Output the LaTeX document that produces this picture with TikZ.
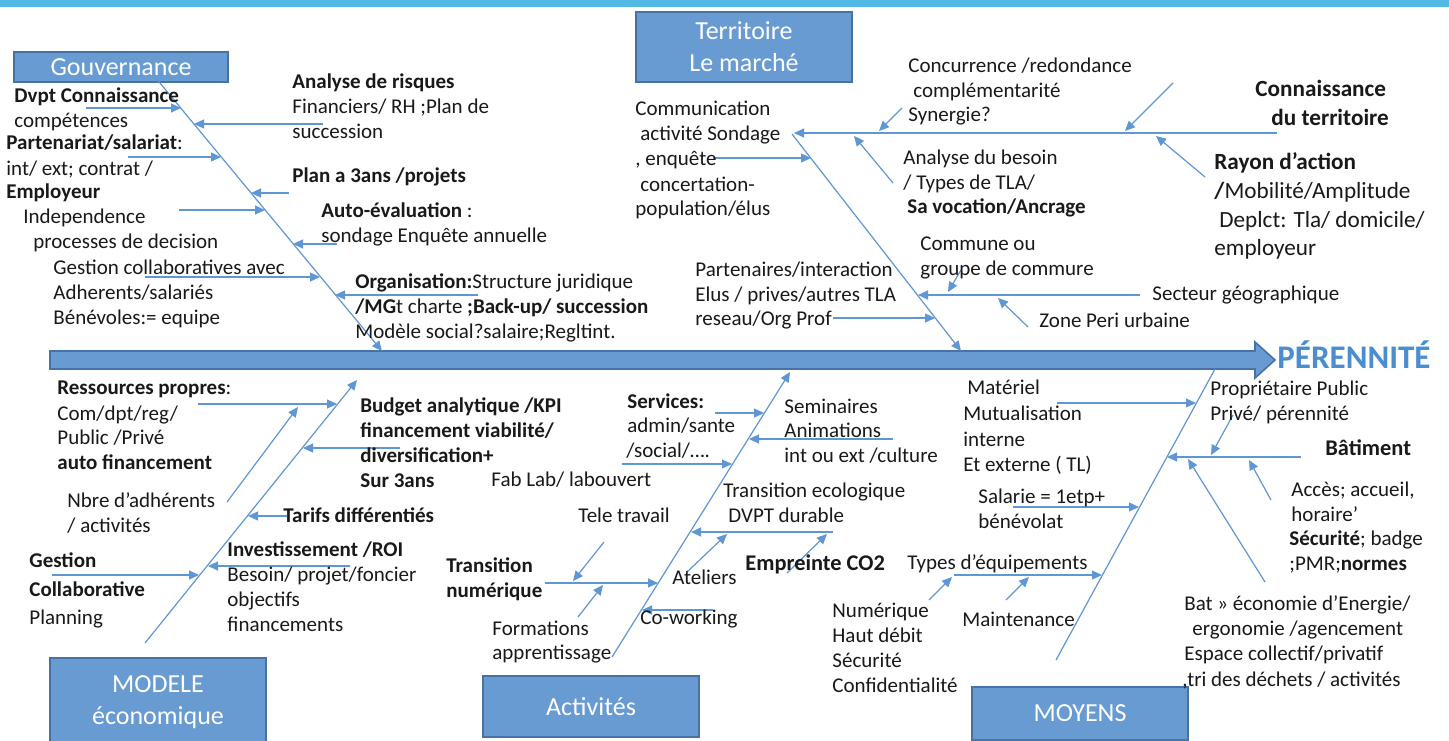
\documentclass[tikz,border=0pt]{standalone}
\usepackage{fontspec}
\setmainfont{Carlito}
\usetikzlibrary{arrows.meta}
\definecolor{topbar}{RGB}{82,184,228}
\definecolor{boxfill}{RGB}{104,155,209}
\definecolor{boxline}{RGB}{70,114,165}
\definecolor{bonecol}{RGB}{95,150,212}
\definecolor{titlecol}{RGB}{74,142,208}
\definecolor{txtcol}{RGB}{25,25,25}
\begin{document}
\begin{tikzpicture}[x=0.5pt,y=-0.5pt,
 tx/.style={anchor=base west,inner sep=0pt,text=txtcol,font=\fontsize{10.5}{12.5}\selectfont},
 txbig/.style={tx,font=\fontsize{11.6}{13}\selectfont},
 txmid/.style={tx,font=\fontsize{11.2}{13}\selectfont},
 cat/.style={draw=boxline,line width=0.9pt,fill=boxfill,text=white,align=center,inner sep=0pt,
   font=\fontsize{13}{16}\selectfont},
 bone/.style={draw=bonecol,line width=0.6pt},
 arr/.style={bone,-{Triangle[length=5pt,width=4.5pt]}},
]
\useasboundingbox (0,0) rectangle (1449,740);
\fill[white] (0,0) rectangle (1449,740);
\fill[topbar] (0,0) rectangle (1449,7);

% spine
\filldraw[fill=boxfill,draw=boxline,line width=0.8pt]
  (50,351) -- (1255,351) -- (1255,342) -- (1275,360) -- (1255,378) -- (1255,369) -- (50,369) -- cycle;
\node[anchor=base west,inner sep=0pt,text=titlecol,font=\fontsize{16.5}{18}\selectfont\bfseries] (per) at (1277,368) {PÉRENNITÉ};

% category boxes
\node[cat,minimum width=107pt,minimum height=15pt] (gov) at (121,67) {Gouvernance};
\node[cat,minimum width=108pt,minimum height=35pt] (ter) at (744,47) {Territoire\\Le marché};
\node[cat,minimum width=108pt,minimum height=44pt] (mod) at (158,702) {MODELE\\économique};
\node[cat,minimum width=108pt,minimum height=30.5pt] (act) at (591,706.5) {Activités};
\node[cat,minimum width=108pt,minimum height=26.5pt] (moy) at (1080,713.5) {MOYENS};

% ---------------- Gouvernance
\coordinate (gT) at (155,77); \coordinate (gB) at (382,351);
\draw[arr] (gT) -- (gB);
\coordinate (g1s) at (86,108);  \coordinate (g1e) at (181,108);
\coordinate (g2s) at (323,124); \coordinate (g2e) at (194,124);
\coordinate (g3s) at (128,157); \coordinate (g3e) at (221,157);
\coordinate (g4s) at (289,193); \coordinate (g4e) at (251,193);
\coordinate (g5s) at (179,210); \coordinate (g5e) at (265,210);
\coordinate (g6s) at (337,244); \coordinate (g6e) at (293,244);
\coordinate (g7s) at (145,277); \coordinate (g7e) at (320,277);
\coordinate (g8s) at (478,295); \coordinate (g8e) at (335,295);
\foreach \i in {1,...,8} {\draw[arr] (g\i s) -- (g\i e);}

\node[tx] (ga) at (14,102) {\textbf{Dvpt Connaissance}};
\node[tx] (gb) at (14,127) {compétences};
\node[tx] (gc) at (6,149) {\textbf{Partenariat/salariat}:};
\node[tx] (gd) at (6,175) {int/ ext; contrat /};
\node[tx] (ge) at (6,198) {\textbf{Employeur}};
\node[tx] (gf) at (23,223) {Independence};
\node[tx] (gg) at (33,248) {processes de decision};
\node[tx] (gh) at (53,274) {Gestion collaboratives avec};
\node[tx] (gi) at (53,299) {Adherents/salariés};
\node[tx] (gj) at (53,324) {Bénévoles:= equipe};
\node[tx] (gk) at (292,88) {\textbf{Analyse de risques}};
\node[tx] (gl) at (292,113) {Financiers/ RH ;Plan de};
\node[tx] (gm) at (292,138) {succession};
\node[tx] (gn) at (292,182) {\textbf{Plan a 3ans /projets}};
\node[tx] (go) at (321,217) {\textbf{Auto-évaluation} :};
\node[tx] (gp) at (321,242) {sondage Enquête annuelle};
\node[tx] (gq) at (355,288) {\textbf{Organisation:}Structure juridique};
\node[tx] (gr) at (355,313) {\textbf{/MG}t charte \textbf{;Back-up/ succession}};
\node[tx] (gs) at (355,338) {Modèle social?salaire;Regltint.};

% ---------------- Territoire
\coordinate (tT) at (792,134); \coordinate (tB) at (961,351);
\draw[arr] (tT) -- (tB);
\coordinate (th1) at (1277,133); \coordinate (th2) at (794,133);
\draw[arr] (th1) -- (th2);
\coordinate (t1s) at (902,108);  \coordinate (t1e) at (879,131);
\coordinate (t2s) at (1173,83);  \coordinate (t2e) at (1125,131);
\coordinate (t3s) at (1205,177); \coordinate (t3e) at (1156,136);
\coordinate (t4s) at (893,183);  \coordinate (t4e) at (854,136);
\coordinate (t5s) at (713,158);  \coordinate (t5e) at (811,158);
\coordinate (t6s) at (1140,295); \coordinate (t6e) at (918,295);
\coordinate (t7s) at (961,270);  \coordinate (t7e) at (948,292);
\coordinate (t8s) at (1028,327); \coordinate (t8e) at (998,298);
\coordinate (t9s) at (833,318);  \coordinate (t9e) at (935,318);
\foreach \i in {1,...,9} {\draw[arr] (t\i s) -- (t\i e);}

\node[tx] (ta) at (635,115) {Communication};
\node[tx] (tb) at (640,140) {activité Sondage};
\node[tx] (tc) at (635,165) {, enquête};
\node[tx] (td) at (640,191) {concertation-};
\node[tx] (te) at (635,215) {population/élus};
\node[tx] (tf) at (908,72) {Concurrence /redondance};
\node[tx] (tg) at (913,97) {complémentarité};
\node[tx] (th) at (908,121) {Synergie?};
\node[txbig] (ti) at (1255,96) {\textbf{Connaissance}};
\node[txbig] (tj) at (1271,125) {\textbf{du territoire}};
\node[tx] (tk) at (903,164) {Analyse du besoin};
\node[tx] (tl) at (903,189) {/ Types de TLA/};
\node[tx] (tm) at (907,213) {\textbf{Sa vocation/Ancrage}};
\node[txbig] (tn) at (1214,169) {\textbf{Rayon d’action}};
\node[txbig] (to) at (1214,198) {\textbf{/}Mobilité/Amplitude};
\node[txbig] (tp) at (1219,227) {Deplct: Tla/ domicile/};
\node[txbig] (tq) at (1214,255) {employeur};
\node[tx] (tr) at (920,250) {Commune ou};
\node[tx] (ts) at (920,275) {groupe de commure};
\node[tx] (tt) at (695,276) {Partenaires/interaction};
\node[tx] (tu) at (695,301) {Elus / prives/autres TLA};
\node[tx] (tv) at (695,325) {reseau/Org Prof};
\node[tx] (tw) at (1152,300) {Secteur géographique};
\node[tx] (tx) at (1039,327) {Zone Peri urbaine};

% ---------------- Modele economique
\coordinate (mB) at (145,643); \coordinate (mT) at (357,380);
\draw[arr] (mB) -- (mT);
\coordinate (m1s) at (227,502); \coordinate (m1e) at (298,407);
\coordinate (m2s) at (198,404); \coordinate (m2e) at (337,404);
\coordinate (m3s) at (400,448); \coordinate (m3e) at (303,448);
\coordinate (m4s) at (287,516); \coordinate (m4e) at (248,516);
\coordinate (m5s) at (52,575);  \coordinate (m5e) at (199,575);
\coordinate (m6s) at (350,566); \coordinate (m6e) at (208,566);
\foreach \i in {1,...,6} {\draw[arr] (m\i s) -- (m\i e);}

\node[tx] (ma) at (57,394) {\textbf{Ressources propres}:};
\node[tx] (mb) at (57,420) {Com/dpt/reg/};
\node[tx] (mc) at (57,444) {Public /Privé};
\node[tx] (md) at (57,469) {\textbf{auto financement}};
\node[tx] (me) at (67,507) {Nbre d’adhérents};
\node[tx] (mf) at (67,532) {/ activités};
\node[tx] (mg) at (29,567) {\textbf{Gestion}};
\node[tx] (mh) at (29,596) {\textbf{Collaborative}};
\node[tx] (mi) at (29,624) {Planning};
\node[tx] (mj) at (360,412) {\textbf{Budget analytique /KPI}};
\node[tx] (mk) at (360,437) {\textbf{financement viabilité/}};
\node[tx] (ml) at (360,462) {\textbf{diversification+}};
\node[tx] (mm) at (360,487) {\textbf{Sur 3ans}};
\node[tx] (mn) at (283,522) {\textbf{Tarifs différentiés}};
\node[tx] (mo) at (227,556) {\textbf{Investissement /ROI}};
\node[tx] (mp) at (227,581) {Besoin/ projet/foncier};
\node[tx] (mq) at (227,606) {objectifs};
\node[tx] (mr) at (227,631) {financements};

% ---------------- Activites
\coordinate (aB) at (612,657); \coordinate (aT) at (790,372);
\draw[arr] (aB) -- (aT);
\coordinate (a1s) at (715,413);  \coordinate (a1e) at (764,413);
\coordinate (a2s) at (893,439);  \coordinate (a2e) at (749,439);
\coordinate (a3s) at (622,464);  \coordinate (a3e) at (732,464);
\coordinate (a4s) at (833,532);  \coordinate (a4e) at (691,532);
\coordinate (a5s) at (687,572);  \coordinate (a5e) at (727,534);
\coordinate (a6s) at (787,573);  \coordinate (a6e) at (827,534);
\coordinate (a7s) at (545,583);  \coordinate (a7e) at (658,583);
\coordinate (a8s) at (604,542);  \coordinate (a8e) at (573,581);
\coordinate (a9s) at (578,617);  \coordinate (a9e) at (603,585);
\coordinate (a10s) at (713,610); \coordinate (a10e) at (642,610);
\foreach \i in {1,...,10} {\draw[arr] (a\i s) -- (a\i e);}

\node[tx] (aa) at (627,408) {\textbf{Services:}};
\node[tx] (ab) at (627,432) {admin/sante};
\node[tx] (ac) at (626,457) {/social/….};
\node[tx] (ad) at (784,413) {Seminaires};
\node[tx] (ae) at (784,437) {Animations};
\node[tx] (af) at (784,462) {int ou ext /culture};
\node[tx] (ag) at (491,486) {Fab Lab/ labouvert};
\node[tx] (ah) at (578,522) {Tele travail};
\node[tx] (ai) at (723,497) {Transition ecologique};
\node[tx] (aj) at (728,522) {DVPT durable};
\node[tx] (ak) at (446,572) {\textbf{Transition}};
\node[tx] (al) at (446,597) {\textbf{numérique}};
\node[tx] (am) at (672,584) {Ateliers};
\node[txmid] (an) at (745,570) {\textbf{Empreinte CO2}};
\node[tx] (ao) at (640,624) {Co-working};
\node[tx] (ap) at (492,635) {Formations};
\node[tx] (aq) at (492,659) {apprentissage};

% ---------------- Moyens
\coordinate (yB) at (1056,660); \coordinate (yT) at (1215,369);
\draw[bone] (yB) -- (yT);
\coordinate (y1s) at (1057,403); \coordinate (y1e) at (1196,403);
\coordinate (y2s) at (1301,457); \coordinate (y2e) at (1167,457);
\coordinate (y3s) at (1233,415); \coordinate (y3e) at (1211,455);
\coordinate (y4s) at (1271,500); \coordinate (y4e) at (1249,460);
\coordinate (y5s) at (1265,582); \coordinate (y5e) at (1188,459);
\coordinate (y6s) at (1013,507); \coordinate (y6e) at (1139,507);
\coordinate (y7s) at (954,575);  \coordinate (y7e) at (1102,575);
\coordinate (y8s) at (929,600);  \coordinate (y8e) at (952,577);
\coordinate (y9s) at (1006,600); \coordinate (y9e) at (1029,577);
\foreach \i in {1,...,9} {\draw[arr] (y\i s) -- (y\i e);}

\node[tx] (ya) at (967,394) {Matériel};
\node[tx] (yb) at (963,420) {Mutualisation};
\node[tx] (yc) at (963,446) {interne};
\node[tx] (yd) at (963,471) {Et externe ( TL)};
\node[tx] (ye) at (978,503) {Salarie = 1etp+};
\node[tx] (yf) at (978,528) {bénévolat};
\node[tx] (yg) at (1210,395) {Propriétaire Public};
\node[tx] (yh) at (1210,420) {Privé/ pérennité};
\node[txmid] (yi) at (1325,455) {\textbf{Bâtiment}};
\node[tx] (yj) at (1291,496) {Accès; accueil,};
\node[tx] (yk) at (1291,521) {horaire’};
\node[tx] (yl) at (1289,545) {\textbf{Sécurité}; badge};
\node[tx] (ym) at (1289,570) {;PMR;\textbf{normes}};
\node[tx] (yn) at (907,569) {Types d’équipements};
\node[tx] (yo) at (832,617) {Numérique};
\node[tx] (yp) at (832,642) {Haut débit};
\node[tx] (yq) at (832,667) {Sécurité};
\node[tx] (yr) at (832,692) {Confidentialité};
\node[tx] (ys) at (962,626) {Maintenance};
\node[tx] (yt) at (1184,610) {Bat » économie d'Energie/};
\node[tx] (yu) at (1192,635) {ergonomie /agencement};
\node[tx] (yv) at (1184,660) {Espace collectif/privatif};
\node[tx] (yw) at (1182,686) {,tri des déchets / activités};
\end{tikzpicture}
\end{document}
